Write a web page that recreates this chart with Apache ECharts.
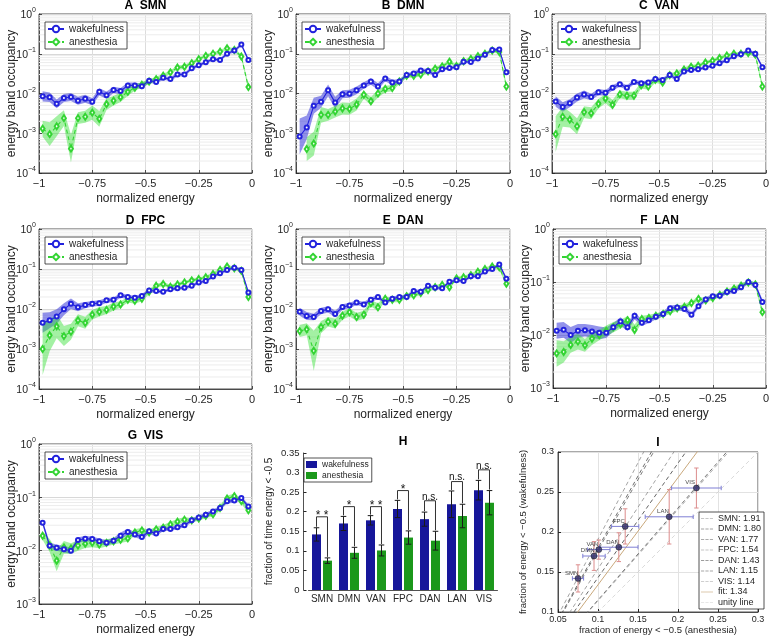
<!DOCTYPE html>
<html>
<head>
<meta charset="utf-8">
<script src="https://cdn.jsdelivr.net/npm/echarts@6.0.0/dist/echarts.min.js"></script>
<style>
html,body{margin:0;padding:0;background:#fff;}
#chart{width:770px;height:638px;}
</style>
</head>
<body>
<div id="chart"></div>
<script>
// ================= DATA =================
const energyBins = [-0.983,-0.950,-0.917,-0.883,-0.850,-0.817,-0.783,-0.750,-0.717,-0.683,-0.650,-0.617,-0.583,-0.550,-0.517,-0.483,-0.450,-0.417,-0.383,-0.350,-0.317,-0.283,-0.250,-0.217,-0.183,-0.150,-0.117,-0.083,-0.050,-0.017];
const networks = ['SMN','DMN','VAN','FPC','DAN','LAN','VIS'];
const panelLetters = ['A','B','C','D','E','F','G'];

const wakeSMN = [0.0085,0.0080,0.0055,0.0077,0.0082,0.0066,0.0074,0.0062,0.011,0.0091,0.0123,0.0115,0.016,0.016,0.0153,0.021,0.0196,0.025,0.023,0.030,0.030,0.043,0.051,0.061,0.073,0.070,0.10,0.12,0.17,0.07];
const anesSMN = [0.0013,0.00095,0.0015,0.0024,0.00041,0.0024,0.0026,0.0033,0.0023,0.0054,0.0066,0.0081,0.011,0.014,0.0166,0.020,0.023,0.028,0.034,0.045,0.047,0.058,0.073,0.088,0.10,0.113,0.137,0.125,0.085,0.0145];
const wakeDMN = [0.00083,0.0014,0.0049,0.0062,0.012,0.0059,0.0096,0.0098,0.012,0.016,0.020,0.015,0.024,0.019,0.020,0.029,0.032,0.038,0.037,0.029,0.041,0.044,0.046,0.063,0.062,0.076,0.095,0.125,0.127,0.034];
const anesDMN = [null,0.0004,0.00055,0.0029,0.0029,0.0035,0.0042,0.0041,0.0053,0.0093,0.0064,0.010,0.013,0.0137,0.020,0.028,0.028,0.030,0.036,0.042,0.048,0.063,0.049,0.065,0.074,0.087,0.10,0.12,0.11,0.015];
const wakeVAN = [0.0063,0.0046,0.0057,0.0079,0.0094,0.0082,0.0108,0.0104,0.0139,0.017,0.014,0.0195,0.018,0.019,0.023,0.022,0.029,0.023,0.036,0.039,0.041,0.045,0.050,0.058,0.069,0.087,0.097,0.12,0.10,0.046];
const anesVAN = [0.00095,0.0026,0.0022,0.0015,0.0034,0.0032,0.0055,0.0075,0.0052,0.0095,0.0088,0.0088,0.016,0.015,0.022,0.019,0.029,0.032,0.040,0.047,0.050,0.060,0.067,0.078,0.090,0.100,0.100,0.105,0.095,0.015];
const wakeFPC = [0.0045,0.0052,0.0065,0.0098,0.0135,0.011,0.0125,0.0135,0.014,0.0165,0.017,0.022,0.020,0.019,0.021,0.029,0.028,0.027,0.031,0.033,0.034,0.038,0.046,0.050,0.065,0.078,0.095,0.108,0.095,0.026];
const anesFPC = [0.001,0.0022,0.0037,0.0021,0.0027,0.0052,0.0045,0.0072,0.0085,0.0095,0.0115,0.013,0.017,0.016,0.018,0.027,0.038,0.042,0.036,0.041,0.046,0.052,0.056,0.062,0.075,0.095,0.115,0.105,0.09,0.02];
const wakeDAN = [0.0085,0.0067,0.0063,0.0089,0.0098,0.0075,0.0112,0.0122,0.0145,0.013,0.017,0.020,0.0145,0.018,0.020,0.020,0.028,0.027,0.038,0.034,0.033,0.048,0.052,0.050,0.066,0.066,0.086,0.10,0.13,0.057];
const anesDAN = [0.0028,0.0031,0.0009,0.0035,0.0048,0.0043,0.0068,0.0083,0.0063,0.0072,0.014,0.011,0.018,0.017,0.017,0.021,0.022,0.025,0.030,0.035,0.040,0.035,0.058,0.062,0.070,0.085,0.100,0.115,0.110,0.043];
const wakeLAN = [0.012,0.0125,0.010,0.012,0.0123,0.0117,0.011,0.011,0.014,0.018,0.014,0.023,0.017,0.019,0.022,0.025,0.032,0.033,0.031,0.024,0.035,0.047,0.054,0.055,0.065,0.068,0.08,0.10,0.088,0.042];
const anesLAN = [0.0045,0.0048,0.0065,0.0075,0.0064,0.0085,0.010,0.012,0.014,0.016,0.019,0.0125,0.020,0.021,0.023,0.025,0.028,0.032,0.034,0.040,0.048,0.045,0.050,0.057,0.066,0.075,0.085,0.098,0.09,0.027];
const wakeVIS = [0.0335,0.0123,0.0114,0.0106,0.010,0.0159,0.0167,0.0165,0.015,0.0141,0.0154,0.019,0.0225,0.020,0.018,0.023,0.021,0.0255,0.0255,0.0275,0.030,0.037,0.042,0.047,0.054,0.063,0.084,0.087,0.097,0.067];
const anesVIS = [0.019,0.0125,0.0065,0.0115,0.011,0.0125,0.0135,0.014,0.013,0.014,0.015,0.016,0.017,0.022,0.024,0.022,0.025,0.027,0.031,0.035,0.038,0.037,0.040,0.045,0.048,0.063,0.095,0.105,0.085,0.057];

// shaded-band half widths (log10 units)
const spreadWakeSMN = [0.13,0.12,0.11,0.1,0.1,0.1,0.1,0.09,0.09,0.09,0.08,0.08,0.07,0.07,0.06,0.06,0.05,0.05,0.05,0.05,0.05,0.04,0.04,0.04,0.04,0.04,0.04,0.04,0.04,0.05];
const spreadAnesSMN = [0.2,0.3,0.25,0.2,0.35,0.15,0.15,0.18,0.2,0.15,0.12,0.12,0.1,0.08,0.07,0.06,0.06,0.05,0.05,0.05,0.05,0.04,0.04,0.04,0.04,0.04,0.04,0.04,0.05,0.08];
const spreadWakeDMN = [0.45,0.3,0.2,0.15,0.15,0.15,0.1,0.1,0.1,0.08,0.08,0.08,0.07,0.07,0.06,0.05,0.05,0.05,0.05,0.05,0.04,0.04,0.04,0.04,0.04,0.04,0.04,0.04,0.04,0.05];
const spreadAnesDMN = [0,0.3,0.3,0.2,0.15,0.15,0.15,0.15,0.15,0.1,0.1,0.1,0.08,0.08,0.06,0.05,0.05,0.05,0.05,0.05,0.05,0.04,0.04,0.04,0.04,0.04,0.04,0.04,0.05,0.08];
const spreadWakeVAN = [0.13,0.12,0.1,0.1,0.1,0.08,0.08,0.07,0.07,0.06,0.06,0.06,0.05,0.05,0.05,0.05,0.05,0.05,0.04,0.04,0.04,0.04,0.04,0.04,0.04,0.04,0.04,0.04,0.04,0.05];
const spreadAnesVAN = [0.45,0.25,0.2,0.2,0.15,0.15,0.12,0.12,0.12,0.1,0.1,0.1,0.08,0.08,0.07,0.06,0.05,0.05,0.05,0.05,0.04,0.04,0.04,0.04,0.04,0.04,0.04,0.04,0.05,0.08];
const spreadWakeFPC = [0.25,0.2,0.18,0.15,0.13,0.1,0.08,0.07,0.07,0.06,0.06,0.06,0.05,0.05,0.05,0.05,0.05,0.04,0.04,0.04,0.04,0.04,0.04,0.04,0.04,0.04,0.04,0.04,0.04,0.05];
const spreadAnesFPC = [0.65,0.4,0.3,0.25,0.2,0.15,0.15,0.12,0.12,0.1,0.1,0.08,0.07,0.07,0.06,0.06,0.05,0.05,0.05,0.05,0.04,0.04,0.04,0.04,0.04,0.04,0.04,0.04,0.05,0.06];
const spreadWakeDAN = [0.1,0.1,0.08,0.08,0.08,0.08,0.07,0.07,0.06,0.06,0.06,0.05,0.05,0.05,0.05,0.05,0.05,0.04,0.04,0.04,0.04,0.04,0.04,0.04,0.04,0.04,0.04,0.04,0.04,0.05];
const spreadAnesDAN = [0.15,0.15,0.5,0.15,0.12,0.12,0.1,0.1,0.1,0.1,0.08,0.1,0.06,0.06,0.06,0.05,0.05,0.05,0.05,0.05,0.04,0.04,0.04,0.04,0.04,0.04,0.04,0.04,0.05,0.06];
const spreadWakeLAN = [0.15,0.15,0.15,0.13,0.12,0.12,0.12,0.1,0.08,0.08,0.07,0.07,0.06,0.05,0.05,0.05,0.05,0.05,0.05,0.05,0.04,0.04,0.04,0.04,0.04,0.04,0.04,0.04,0.04,0.05];
const spreadAnesLAN = [0.25,0.2,0.15,0.15,0.12,0.12,0.1,0.1,0.1,0.08,0.08,0.1,0.06,0.06,0.05,0.05,0.05,0.05,0.05,0.04,0.04,0.04,0.04,0.04,0.04,0.04,0.04,0.04,0.04,0.06];
const spreadWakeVIS = [0.05,0.06,0.06,0.06,0.06,0.05,0.05,0.05,0.05,0.05,0.05,0.06,0.06,0.05,0.05,0.05,0.05,0.04,0.04,0.04,0.04,0.04,0.04,0.04,0.04,0.04,0.04,0.04,0.04,0.04];
const spreadAnesVIS = [0.08,0.12,0.2,0.12,0.1,0.1,0.08,0.08,0.07,0.07,0.06,0.06,0.06,0.06,0.05,0.05,0.05,0.05,0.05,0.05,0.05,0.04,0.04,0.04,0.04,0.05,0.05,0.05,0.05,0.06];

// panel H / I
const wakeFraction = [0.142,0.170,0.178,0.207,0.181,0.219,0.255];
const wakeFractionErr = [0.017,0.018,0.012,0.022,0.018,0.034,0.025];
const anesFraction = [0.075,0.095,0.101,0.134,0.126,0.189,0.223];
const anesFractionErr = [0.007,0.014,0.014,0.017,0.024,0.030,0.031];
const sigLabels = ['* *','*','* *','*','n.s.','n.s.','n.s.'];
const bracketLevels = [0.187,0.213,0.213,0.254,0.228,0.277,0.307];
const ratioSlopes = [1.91,1.80,1.77,1.54,1.43,1.15,1.14];
const fitSlope = 1.34;

// ================= LAYOUT / STYLE =================
const lineGrids = [
  [39,14,213,159],[296,14,214,159],[552,14,214,159],
  [39,229,213,160],[296,229,214,160],[553,229,213,159],
  [39,444,213,160]];
const yMins = [1e-4,1e-4,1e-4,1e-4,1e-4,1e-3,1e-3];
const wakeSets = [wakeSMN,wakeDMN,wakeVAN,wakeFPC,wakeDAN,wakeLAN,wakeVIS];
const anesSets = [anesSMN,anesDMN,anesVAN,anesFPC,anesDAN,anesLAN,anesVIS];
const wakeSpreads = [spreadWakeSMN,spreadWakeDMN,spreadWakeVAN,spreadWakeFPC,spreadWakeDAN,spreadWakeLAN,spreadWakeVIS];
const anesSpreads = [spreadAnesSMN,spreadAnesDMN,spreadAnesVAN,spreadAnesFPC,spreadAnesDAN,spreadAnesLAN,spreadAnesVIS];

const FONT = '"Liberation Sans", Arial, Helvetica, sans-serif';
const INK = '#262626';
const BLUE = '#2222dd', GREEN = '#33d433';
const BLUE_BAND = 'rgba(40,40,215,0.5)', GREEN_BAND = 'rgba(50,225,50,0.45)';
const WAKE_BAR = '#16169a', ANES_BAR = '#1b981b';
const BAR_W = 9, BAR_GAP = 0.22;
const BAR_OFF = (BAR_W + BAR_W * BAR_GAP) / 2;
const dashGrays = ['#8c8c8c','#4a4a4a','#5a5a5a','#8a8a8a','#3c3c3c','#505050','#a0a0a0'];
const FIT_COLOR = '#c9a87c', UNITY_COLOR = '#cfcfcf';

function supTxt(e){ return e < 0 ? '\u2212' + (-e) : String(e); }
function minus(v){ return String(v).replace('-', '\u2212'); }

const option = {
  animation: false,
  backgroundColor: '#fff',
  textStyle: { fontFamily: FONT },
  title: [], grid: [], xAxis: [], yAxis: [], legend: [], series: []
};

function bandSeries(idx, vals, spreads, color){
  const pts = [];
  for (let k = 0; k < energyBins.length; k++) {
    if (vals[k] == null) continue;
    const f = Math.pow(10, spreads[k]);
    pts.push([energyBins[k], vals[k] / f, vals[k] * f]);
  }
  return {
    type: 'custom', xAxisIndex: idx, yAxisIndex: idx, z: 2, silent: true, clip: true,
    data: pts,
    renderItem: function(params, api){
      if (params.dataIndex !== 0) return null;
      const up = pts.map(p => api.coord([p[0], p[2]]));
      const lo = pts.map(p => api.coord([p[0], p[1]])).reverse();
      return { type: 'polygon', shape: { points: up.concat(lo) }, style: { fill: color, stroke: null } };
    }
  };
}

for (let p = 0; p < 7; p++) {
  const [gx, gy, gw, gh] = lineGrids[p];
  option.grid.push({ left: gx, top: gy, width: gw, height: gh, show: true, borderColor: INK, borderWidth: 0.8,
    backgroundColor: '#fff', containLabel: false, outerBoundsMode: 'none' });
  option.title.push({ text: panelLetters[p] + '  ' + networks[p], left: gx + gw / 2, top: gy - 14, textAlign: 'center', padding: 0,
    textStyle: { fontSize: 12, fontWeight: 'bold', color: '#000', fontFamily: FONT } });
  option.xAxis.push({
    gridIndex: p, type: 'value', min: -1, max: 0, interval: 0.25,
    name: 'normalized energy', nameLocation: 'middle', nameGap: 20, nameMoveOverlap: false,
    nameTextStyle: { fontSize: 12, color: INK, fontFamily: FONT },
    axisLine: { show: true, onZero: false, lineStyle: { color: INK, width: 0.8 } },
    axisTick: { show: true, inside: true, length: 3, lineStyle: { color: INK, width: 0.8 } },
    axisLabel: { fontSize: 11, color: INK, margin: 5, fontFamily: FONT, formatter: v => v === 0 ? '0' : minus(v) },
    splitLine: { show: true, lineStyle: { color: '#dcdcdc', width: 1 } }
  });
  option.yAxis.push({
    gridIndex: p, type: 'log', logBase: 10, min: yMins[p], max: 1,
    name: 'energy band occupancy', nameLocation: 'middle', nameGap: 21, nameMoveOverlap: false,
    nameTextStyle: { fontSize: 12, color: INK, fontFamily: FONT },
    axisLine: { show: true, onZero: false, lineStyle: { color: INK, width: 0.8 } },
    axisTick: { show: true, inside: true, length: 3, lineStyle: { color: INK, width: 0.8 } },
    axisLabel: { margin: 3, formatter: v => '{b|10}{e|' + supTxt(Math.round(Math.log10(v))) + '}',
      rich: { b: { fontSize: 10.5, color: INK, fontFamily: FONT, lineHeight: 14, verticalAlign: 'bottom' },
              e: { fontSize: 7, color: INK, fontFamily: FONT, lineHeight: 14, verticalAlign: 'top' } } },
    splitLine: { show: true, lineStyle: { color: '#d8d8d8', width: 1 } }
  });
  option.legend.push({
    left: gx + 6, top: gy + 8, orient: 'vertical', data: ['wakefulness', 'anesthesia'],
    backgroundColor: '#fff', borderColor: INK, borderWidth: 0.8, borderRadius: 0, padding: [2, 3, 2, 2],
    itemGap: 3, itemWidth: 16, itemHeight: 8, selectedMode: false,
    textStyle: { fontSize: 10, color: INK, fontFamily: FONT }
  });
  // minor log grid lines (style only)
  const minorVals = [];
  for (let e = Math.round(Math.log10(yMins[p])); e < 0; e++) for (let m = 2; m <= 9; m++) minorVals.push([m * Math.pow(10, e)]);
  option.series.push({
    type: 'custom', xAxisIndex: p, yAxisIndex: p, z: 1, silent: true,
    encode: { y: 0 }, data: minorVals,
    renderItem: function(params, api){
      const a = api.coord([-1, api.value(0)]), b = api.coord([0, api.value(0)]);
      return { type: 'line', shape: { x1: a[0], y1: a[1], x2: b[0], y2: b[1] }, style: { stroke: '#ececec', lineWidth: 1 } };
    }
  });
  const wakeData = energyBins.map((x, k) => [x, wakeSets[p][k]]);
  const anesData = energyBins.map((x, k) => [x, anesSets[p][k]]);
  option.series.push(bandSeries(p, wakeSets[p], wakeSpreads[p], BLUE_BAND));
  option.series.push(bandSeries(p, anesSets[p], anesSpreads[p], GREEN_BAND));
  option.series.push({
    type: 'line', name: 'wakefulness', xAxisIndex: p, yAxisIndex: p, z: 4, data: wakeData,
    symbol: 'emptyCircle', symbolSize: 4, showSymbol: true,
    lineStyle: { color: BLUE, width: 1.1 },
    itemStyle: { color: BLUE, borderColor: BLUE, borderWidth: 0.8 }
  });
  option.series.push({
    type: 'line', name: 'anesthesia', xAxisIndex: p, yAxisIndex: p, z: 3, data: anesData,
    symbol: 'emptyDiamond', symbolSize: [4, 6], showSymbol: true,
    lineStyle: { color: GREEN, width: 1.1, type: [4, 3] },
    itemStyle: { color: GREEN, borderColor: GREEN, borderWidth: 0.8 }
  });
}

// ================= PANEL H =================
option.grid.push({ left: 308.5, top: 453, width: 189, height: 137, containLabel: false, outerBoundsMode: 'none' });
option.title.push({ text: 'H', left: 403, top: 436, textAlign: 'center', padding: 0,
  textStyle: { fontSize: 12, fontWeight: 'bold', color: '#000', fontFamily: FONT } });
option.xAxis.push({
  gridIndex: 7, type: 'category', data: networks,
  axisLine: { show: true, lineStyle: { color: INK, width: 0.8 } },
  axisTick: { show: false },
  axisLabel: { fontSize: 10, color: INK, margin: 4, fontFamily: FONT, interval: 0 },
  splitLine: { show: false }
});
option.yAxis.push({
  gridIndex: 7, type: 'value', min: 0, max: 0.35, interval: 0.05, offset: 5,
  name: 'fraction of time energy < -0.5', nameLocation: 'middle', nameGap: 29, nameMoveOverlap: false,
  nameTextStyle: { fontSize: 10, color: INK, fontFamily: FONT },
  axisLine: { show: true, lineStyle: { color: INK, width: 0.8 } },
  axisTick: { show: true, inside: true, length: 3, lineStyle: { color: INK } },
  axisLabel: { fontSize: 9.5, color: INK, margin: 4, fontFamily: FONT },
  splitLine: { show: false }
});
option.legend.push({
  left: 304, top: 458, orient: 'vertical', selectedMode: false,
  data: [
    { name: 'wakefulness', icon: 'rect', itemStyle: { color: WAKE_BAR, borderWidth: 0 } },
    { name: 'anesthesia', icon: 'rect', itemStyle: { color: ANES_BAR, borderWidth: 0 } }
  ],
  backgroundColor: '#fff', borderColor: INK, borderWidth: 0.8, borderRadius: 0, padding: [2, 3, 2, 2],
  itemGap: 2, itemWidth: 11, itemHeight: 7,
  textStyle: { fontSize: 8.5, color: INK, fontFamily: FONT }
});
option.series.push({
  type: 'bar', name: 'wakefulness', xAxisIndex: 7, yAxisIndex: 7, data: wakeFraction,
  barWidth: BAR_W, barGap: (BAR_GAP * 100) + '%', itemStyle: { color: WAKE_BAR }, z: 2
});
option.series.push({
  type: 'bar', name: 'anesthesia', xAxisIndex: 7, yAxisIndex: 7, data: anesFraction,
  barWidth: BAR_W, barGap: (BAR_GAP * 100) + '%', itemStyle: { color: ANES_BAR }, z: 2
});
function hErr(side){
  return function(params, api){
    const k = api.value(0), m = api.value(1), e = api.value(2);
    const a = api.coord([k, m + e]), b = api.coord([k, m - e]);
    const x = a[0] + side * BAR_OFF, c = 2.8;
    const st = { stroke: '#1a1a1a', lineWidth: 1 };
    return { type: 'group', children: [
      { type: 'line', shape: { x1: x, y1: a[1], x2: x, y2: b[1] }, style: st },
      { type: 'line', shape: { x1: x - c, y1: a[1], x2: x + c, y2: a[1] }, style: st },
      { type: 'line', shape: { x1: x - c, y1: b[1], x2: x + c, y2: b[1] }, style: st }
    ] };
  };
}
option.series.push({ type: 'custom', xAxisIndex: 7, yAxisIndex: 7, z: 5, silent: true,
  data: networks.map((n, k) => [k, wakeFraction[k], wakeFractionErr[k]]), renderItem: hErr(-1) });
option.series.push({ type: 'custom', xAxisIndex: 7, yAxisIndex: 7, z: 5, silent: true,
  data: networks.map((n, k) => [k, anesFraction[k], anesFractionErr[k]]), renderItem: hErr(1) });
option.series.push({
  type: 'custom', xAxisIndex: 7, yAxisIndex: 7, z: 5, silent: true,
  data: networks.map((n, k) => [k, bracketLevels[k], wakeFraction[k] + wakeFractionErr[k], anesFraction[k] + anesFractionErr[k]]),
  renderItem: function(params, api){
    const k = api.value(0);
    const pl = api.coord([k, api.value(1)]), pw = api.coord([k, api.value(2)]), pa = api.coord([k, api.value(3)]);
    const xl = pl[0] - BAR_OFF, xr = pl[0] + BAR_OFF;
    const lab = sigLabels[params.dataIndex];
    const isStar = lab.indexOf('*') >= 0;
    return { type: 'group', children: [
      { type: 'polyline', shape: { points: [[xl, pw[1] - 1], [xl, pl[1]], [xr, pl[1]], [xr, pa[1] - 1]] },
        style: { stroke: '#333', lineWidth: 1, fill: null } },
      { type: 'text', style: { text: lab, x: (xl + xr) / 2, y: pl[1] + (isStar ? 5 : 1), align: 'center', verticalAlign: 'bottom',
        fontSize: isStar ? 12 : 10, fontFamily: FONT, fill: '#111' } }
    ] };
  }
});

// ================= PANEL I =================
option.grid.push({ left: 558, top: 452, width: 200, height: 160, show: true, borderColor: INK, borderWidth: 0.8,
  backgroundColor: '#fff', containLabel: false, outerBoundsMode: 'none' });
option.title.push({ text: 'I', left: 658, top: 437, textAlign: 'center', padding: 0,
  textStyle: { fontSize: 12, fontWeight: 'bold', color: '#000', fontFamily: FONT } });
option.xAxis.push({
  gridIndex: 8, type: 'value', min: 0.05, max: 0.3, interval: 0.05,
  name: 'fraction of energy < \u22120.5 (anesthesia)', nameLocation: 'middle', nameGap: 13, nameMoveOverlap: false,
  nameTextStyle: { fontSize: 9.5, color: INK, fontFamily: FONT },
  axisLine: { show: true, onZero: false, lineStyle: { color: INK, width: 0.8 } },
  axisTick: { show: true, inside: true, length: 3, lineStyle: { color: INK } },
  axisLabel: { fontSize: 9, color: INK, margin: 3, fontFamily: FONT },
  splitLine: { show: true, lineStyle: { color: '#e2e2e2', width: 1 } }
});
option.yAxis.push({
  gridIndex: 8, type: 'value', min: 0.1, max: 0.3, interval: 0.05,
  name: 'fraction of energy < \u22120.5 (wakefulness)', nameLocation: 'middle', nameGap: 30, nameMoveOverlap: false,
  nameTextStyle: { fontSize: 9.5, color: INK, fontFamily: FONT },
  axisLine: { show: true, onZero: false, lineStyle: { color: INK, width: 0.8 } },
  axisTick: { show: true, inside: true, length: 3, lineStyle: { color: INK } },
  axisLabel: { fontSize: 9, color: INK, margin: 4, fontFamily: FONT },
  splitLine: { show: true, lineStyle: { color: '#e2e2e2', width: 1 } }
});
const iLegendData = [];
networks.forEach((n, k) => {
  const s = ratioSlopes[k];
  const nm = n + ': ' + s.toFixed(2);
  iLegendData.push({ name: nm, icon: 'path://M0,0H5V1H0Z M7,0H12V1H7Z M14,0H19V1H14Z', itemStyle: { color: dashGrays[k], borderWidth: 0 } });
  option.series.push({ type: 'line', name: nm, xAxisIndex: 8, yAxisIndex: 8, z: 2, clip: true, silent: true,
    symbol: 'none', data: [[0.05, 0.05 * s], [0.3, 0.3 * s]],
    itemStyle: { color: dashGrays[k] },
    lineStyle: { color: dashGrays[k], width: 0.8, type: [4, 3] } });
});
const fitName = 'fit: ' + fitSlope.toFixed(2);
option.series.push({ type: 'line', name: fitName, xAxisIndex: 8, yAxisIndex: 8, z: 2, clip: true, silent: true,
  symbol: 'none', data: [[0.05, 0.05 * fitSlope], [0.3, 0.3 * fitSlope]], itemStyle: { color: FIT_COLOR },
  lineStyle: { color: FIT_COLOR, width: 1, type: 'solid' } });
option.series.push({ type: 'line', name: 'unity line', xAxisIndex: 8, yAxisIndex: 8, z: 2, clip: true, silent: true,
  symbol: 'none', data: [[0.05, 0.05], [0.3, 0.3]], itemStyle: { color: UNITY_COLOR },
  lineStyle: { color: UNITY_COLOR, width: 0.8, type: [4, 3] } });
iLegendData.push({ name: fitName, icon: 'path://M0,0H19V1H0Z', itemStyle: { color: FIT_COLOR, borderWidth: 0 } });
iLegendData.push({ name: 'unity line', icon: 'path://M0,0H5V1H0Z M7,0H12V1H7Z M14,0H19V1H14Z', itemStyle: { color: UNITY_COLOR, borderWidth: 0 } });
option.legend.push({
  left: 699, top: 512, orient: 'vertical', selectedMode: false, data: iLegendData,
  backgroundColor: '#fff', borderColor: INK, borderWidth: 0.8, borderRadius: 0, padding: [2, 3, 2, 2],
  itemGap: 1.5, itemWidth: 12, itemHeight: 8,
  textStyle: { fontSize: 9, color: INK, fontFamily: FONT }
});
option.series.push({
  type: 'custom', xAxisIndex: 8, yAxisIndex: 8, z: 3, silent: true, clip: true,
  data: networks.map((n, k) => [anesFraction[k], wakeFraction[k], anesFractionErr[k], wakeFractionErr[k]]),
  renderItem: function(params, api){
    const ax = api.value(0), wy = api.value(1), ae = api.value(2), we = api.value(3);
    const l = api.coord([ax - ae, wy]), r = api.coord([ax + ae, wy]);
    const t = api.coord([ax, wy + we]), b = api.coord([ax, wy - we]);
    const c = 2.2;
    const hs = { stroke: '#7f7fd4', lineWidth: 1 }, vs = { stroke: '#dc8c8c', lineWidth: 1 };
    return { type: 'group', children: [
      { type: 'line', shape: { x1: l[0], y1: l[1], x2: r[0], y2: r[1] }, style: hs },
      { type: 'line', shape: { x1: l[0], y1: l[1] - c, x2: l[0], y2: l[1] + c }, style: hs },
      { type: 'line', shape: { x1: r[0], y1: r[1] - c, x2: r[0], y2: r[1] + c }, style: hs },
      { type: 'line', shape: { x1: t[0], y1: t[1], x2: b[0], y2: b[1] }, style: vs },
      { type: 'line', shape: { x1: t[0] - c, y1: t[1], x2: t[0] + c, y2: t[1] }, style: vs },
      { type: 'line', shape: { x1: b[0] - c, y1: b[1], x2: b[0] + c, y2: b[1] }, style: vs }
    ] };
  }
});
option.series.push({
  type: 'scatter', xAxisIndex: 8, yAxisIndex: 8, z: 4, silent: true,
  data: networks.map((n, k) => ({ name: n, value: [anesFraction[k], wakeFraction[k]] })),
  symbol: 'circle', symbolSize: 6,
  itemStyle: { color: '#2a2a66', borderColor: '#111', borderWidth: 0.6 },
  label: { show: true, formatter: '{b}', position: [-3, -2], align: 'center', verticalAlign: 'middle',
    fontSize: 6, color: '#111', fontFamily: FONT }
});

const chart = echarts.init(document.getElementById('chart'), null, { renderer: 'canvas' });
chart.setOption(option);
</script>
</body>
</html>
